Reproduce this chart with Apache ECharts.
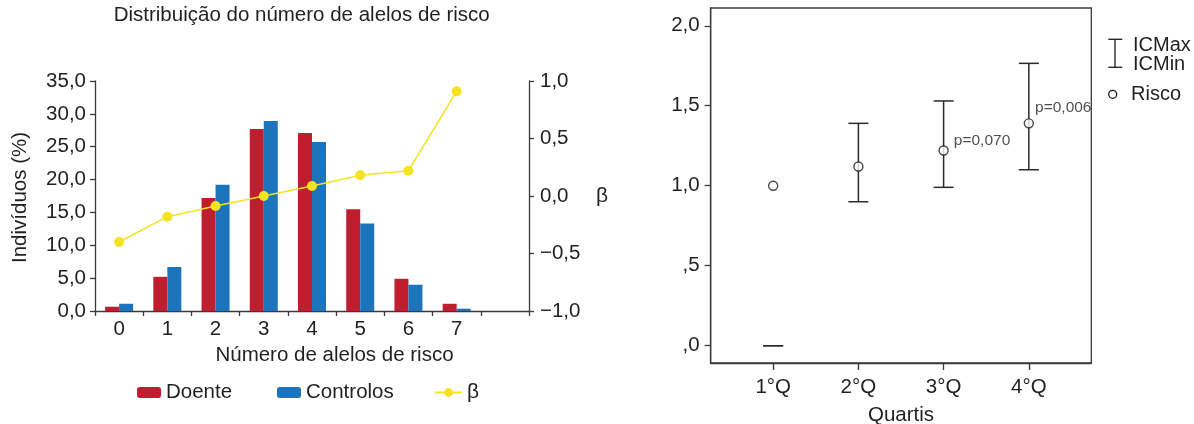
<!DOCTYPE html>
<html>
<head>
<meta charset="utf-8">
<script src="https://cdn.jsdelivr.net/npm/echarts@6/dist/echarts.min.js"></script>
<style>
html,body{margin:0;padding:0;background:#fff;}
#c{width:1194px;height:424px;}
</style>
</head>
<body>
<div id="c"></div>
<script>
// ---- Left chart data ----
const alleleCats = ['0','1','2','3','4','5','6','7',''];
const doente = [0.65, 5.2, 17.2, 27.7, 27.1, 15.5, 4.9, 1.1, null];
const controlos = [1.1, 6.7, 19.2, 28.9, 25.7, 13.3, 4.0, 0.35, null];
const beta = [-0.40, -0.18, -0.087, 0.0, 0.087, 0.18, 0.22, 0.91, null];

// ---- Right chart data ----
const quartis = ['1°Q','2°Q','3°Q','4°Q'];
const risco = [1.0, 1.12, 1.22, 1.39];
const icMin = [0.0, 0.90, 0.99, 1.10];
const icMax = [0.0, 1.39, 1.53, 1.765];
const pLabels = ['', '', 'p=0,070', 'p=0,006'];
const riscoTicks = [0, 0.5, 1, 1.5, 2];
const quartilPos = [1, 2, 3, 4];

const FONT = '"Liberation Sans", Arial, Helvetica, sans-serif';
const TXT = '#231f20';
const AX = '#3a3a3a';
const RED = '#be1e2d', BLUE = '#1c75bc', YEL = '#f3e323';

function fmt1(v){ return v.toFixed(1).replace('.', ',').replace('-', '\u2212'); }
function fmtR(v){ let s = v.toFixed(1).replace('.', ','); if (s.startsWith('0,')) s = s.slice(1); return s; }

const chart = echarts.init(document.getElementById('c'));
const axisLineStyle = {color: AX, width: 1.3};

const option = {
  animation: false,
  textStyle: {fontFamily: FONT, color: TXT},
  grid: [
    {left: 95, top: 81, width: 434, height: 230, containLabel: false, outerBoundsMode: 'none'},
    {left: 710.7, top: 8, width: 380.6, height: 355, show: true, borderColor: AX, borderWidth: 1.3, containLabel: false, outerBoundsMode: 'none'}
  ],
  legend: [
    {data: ['Doente'], left: 132, top: 377, itemWidth: 24, itemHeight: 11, itemGap: 0, textStyle: {fontFamily: FONT, fontSize: 20.5, color: TXT}},
    {data: ['Controlos'], left: 272, top: 377, itemWidth: 24, itemHeight: 11, itemGap: 0, textStyle: {fontFamily: FONT, fontSize: 20.5, color: TXT}},
    {data: ['β'], left: 429, top: 377, itemWidth: 27, itemHeight: 11, itemGap: 0, textStyle: {fontFamily: FONT, fontSize: 21, color: TXT}}
  ],
  xAxis: [
    {type: 'category', gridIndex: 0, data: alleleCats, boundaryGap: true,
     axisLine: {lineStyle: axisLineStyle},
     axisTick: {show: true, length: 5, interval: 0, lineStyle: axisLineStyle},
     axisLabel: {interval: 0, margin: 8, fontSize: 20.5, color: TXT, fontFamily: FONT},
     splitLine: {show: false}},
    {type: 'value', gridIndex: 1, min: 0.267, max: 4.733, position: 'bottom',
     axisLine: {show: true, onZero: false, lineStyle: axisLineStyle},
     axisTick: {show: true, inside: false, length: 7, customValues: quartilPos, lineStyle: axisLineStyle},
     axisLabel: {customValues: quartilPos, margin: 14, fontSize: 20.5, color: TXT, fontFamily: FONT,
                 formatter: v => quartis[Math.round(v) - 1] || ''},
     splitLine: {show: false},
     name: 'Quartis', nameLocation: 'middle', nameGap: 42,
     nameTextStyle: {fontSize: 20.5, color: TXT, fontFamily: FONT}}
  ],
  yAxis: [
    {type: 'value', gridIndex: 0, min: 0, max: 35, interval: 5, position: 'left',
     axisLine: {show: true, lineStyle: axisLineStyle},
     axisTick: {show: true, length: 5, lineStyle: axisLineStyle},
     axisLabel: {margin: 9, fontSize: 20.5, color: TXT, fontFamily: FONT, formatter: v => fmt1(v)},
     splitLine: {show: false}},
    {type: 'value', gridIndex: 0, min: -1, max: 1, interval: 0.5, position: 'right',
     axisLine: {show: true, lineStyle: axisLineStyle},
     axisTick: {show: true, length: 5, lineStyle: axisLineStyle},
     axisLabel: {margin: 11, fontSize: 20.5, color: TXT, fontFamily: FONT, formatter: v => fmt1(v)},
     splitLine: {show: false}},
    {type: 'value', gridIndex: 1, min: -0.108, max: 2.111, position: 'left',
     axisLine: {show: true, onZero: false, lineStyle: axisLineStyle},
     axisTick: {show: true, inside: false, length: 6, customValues: riscoTicks, lineStyle: axisLineStyle},
     axisLabel: {customValues: riscoTicks, margin: 11, fontSize: 20.5, color: TXT, fontFamily: FONT, formatter: v => fmtR(v)},
     splitLine: {show: false}}
  ],
  series: [
    {name: 'Doente', type: 'bar', xAxisIndex: 0, yAxisIndex: 0, data: doente, barWidth: 14, barGap: '0%',
     itemStyle: {color: RED}},
    {name: 'Controlos', type: 'bar', xAxisIndex: 0, yAxisIndex: 0, data: controlos, barWidth: 14, barGap: '0%',
     itemStyle: {color: BLUE}},
    {name: 'β', type: 'line', xAxisIndex: 0, yAxisIndex: 1, data: beta, symbol: 'circle', symbolSize: 10,
     lineStyle: {color: YEL, width: 1.5}, itemStyle: {color: YEL}, z: 5},
    {name: 'IC', type: 'custom', xAxisIndex: 1, yAxisIndex: 2,
     data: quartis.map((q, i) => [i + 1, icMin[i], icMax[i]]),
     encode: {x: 0, y: [1, 2]},
     renderItem: function (params, api) {
       const x = api.value(0);
       const lo = api.coord([x, api.value(1)]);
       const hi = api.coord([x, api.value(2)]);
       const hw = 10;
       const st = {stroke: '#2a2a2a', lineWidth: 1.5, fill: null};
       return {type: 'group', children: [
         {type: 'line', shape: {x1: lo[0], y1: lo[1], x2: hi[0], y2: hi[1]}, style: st},
         {type: 'line', shape: {x1: hi[0] - hw, y1: hi[1], x2: hi[0] + hw, y2: hi[1]}, style: st},
         {type: 'line', shape: {x1: lo[0] - hw, y1: lo[1], x2: lo[0] + hw, y2: lo[1]}, style: st}
       ]};
     }, z: 3},
    {name: 'Risco', type: 'scatter', xAxisIndex: 1, yAxisIndex: 2, symbol: 'circle', symbolSize: 9,
     itemStyle: {color: '#fff', borderColor: '#1a1a1a', borderWidth: 1.4}, z: 5,
     data: risco.map((v, i) => ({
       value: [i + 1, v],
       label: {show: !!pLabels[i], formatter: pLabels[i], position: 'right', distance: 5,
               offset: i === 3 ? [-4, -16] : [0, -10], fontSize: 15.5, color: TXT, fontFamily: FONT}
     }))}
  ],
  graphic: [
    {type: 'text', x: 301.7, y: 15, style: {text: 'Distribuição do número de alelos de risco', align: 'center', verticalAlign: 'middle', font: '20.5px ' + FONT, fill: TXT}},
    {type: 'text', x: 334.5, y: 355, style: {text: 'Número de alelos de risco', align: 'center', verticalAlign: 'middle', font: '20.5px ' + FONT, fill: TXT}},
    {type: 'text', x: 20, y: 197.5, rotation: Math.PI / 2, style: {text: 'Indivíduos (%)', align: 'center', verticalAlign: 'middle', font: '20.5px ' + FONT, fill: TXT}},
    {type: 'text', x: 602, y: 196.7, style: {text: 'β', align: 'center', verticalAlign: 'middle', font: '21px ' + FONT, fill: TXT}},
    // right legend
    {type: 'line', shape: {x1: 1115, y1: 39.3, x2: 1115, y2: 67.3}, style: {stroke: '#2a2a2a', lineWidth: 1.4}},
    {type: 'line', shape: {x1: 1108.3, y1: 39.3, x2: 1122.3, y2: 39.3}, style: {stroke: '#2a2a2a', lineWidth: 1.4}},
    {type: 'line', shape: {x1: 1108.3, y1: 67.3, x2: 1122.3, y2: 67.3}, style: {stroke: '#2a2a2a', lineWidth: 1.4}},
    {type: 'text', x: 1133, y: 45, style: {text: 'ICMax', align: 'left', verticalAlign: 'middle', font: '20px ' + FONT, fill: TXT}},
    {type: 'text', x: 1133, y: 64.3, style: {text: 'ICMin', align: 'left', verticalAlign: 'middle', font: '20px ' + FONT, fill: TXT}},
    {type: 'circle', shape: {cx: 1112.7, cy: 94.3, r: 4}, style: {stroke: '#1a1a1a', lineWidth: 1.3, fill: '#fff'}},
    {type: 'text', x: 1131, y: 94.3, style: {text: 'Risco', align: 'left', verticalAlign: 'middle', font: '20px ' + FONT, fill: TXT}}
  ]
};
chart.setOption(option);
</script>
</body>
</html>
